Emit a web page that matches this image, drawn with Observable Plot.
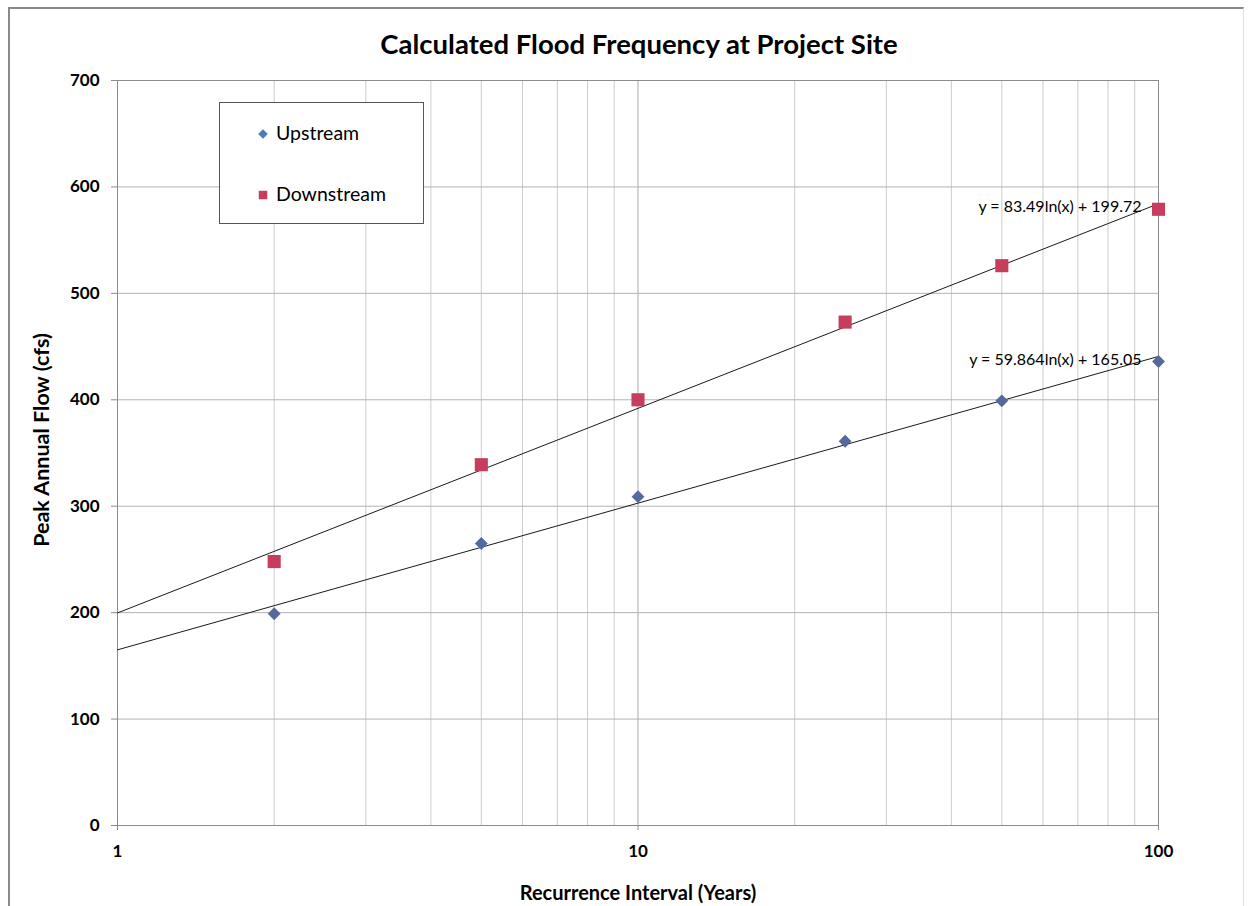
<!DOCTYPE html>
<html>
<head>
<meta charset="utf-8">
<script src="https://cdn.jsdelivr.net/npm/d3@7"></script>
<script src="https://cdn.jsdelivr.net/npm/@observablehq/plot@0.6"></script>
<style>
  html, body { margin: 0; padding: 0; background: #fff; }
  #wrap { position: relative; width: 1257px; height: 906px; overflow: hidden; font-family: Lato, "Open Sans", sans-serif; }
  #border { position: absolute; left: 8px; top: 7px; width: 1233px; height: 920px; border-left: 2px solid #8a8a8a; border-top: 2px solid #8a8a8a; border-right: 1px solid #e2e2e2; }
  #title { position: absolute; left: 0; top: 27px; width: 1278px; text-align: center; font-size: 27.5px; font-weight: bold; color: #000; }
  #legend { position: absolute; left: 219px; top: 102px; width: 205px; height: 122px; border: 1px solid #555; background: #fff; box-sizing: border-box; }
  .lg { position: absolute; left: 0; font-size: 19.5px; color: #000; white-space: nowrap; line-height: 24px; }
  .lg svg { position: absolute; }
  #chart { position: absolute; left: 0; top: 0; }
</style>
</head>
<body>
<div id="wrap">
  <div id="border"></div>
  <div id="chart"></div>
  <div id="title"></div>
  <div id="legend"></div>
</div>
<script>
// ---- data ----
const years = [2, 5, 10, 25, 50, 100];
const upstream = [199, 265, 309, 361, 399, 436];
const downstream = [248, 339, 400, 473, 526, 579];
const seriesNames = ["Upstream", "Downstream"];
const seriesColors = ["#56699e", "#c63d5e"];
const seriesSymbols = ["diamond2", "square"];
const trendSlope = [59.864, 83.49];
const trendIntercept = [165.05, 199.72];
const trendLabels = ["y = 59.864ln(x) + 165.05", "y = 83.49ln(x) + 199.72"];
const xGrid = [1, 2, 3, 4, 5, 6, 7, 8, 9, 10, 20, 30, 40, 50, 60, 70, 80, 90, 100];
const xTicks = [1, 10, 100];
const yTicks = [0, 100, 200, 300, 400, 500, 600, 700];
const titleText = "Calculated Flood Frequency at Project Site";
const xTitle = "Recurrence Interval (Years)";
const yTitle = "Peak Annual Flow (cfs)";

// ---- build tables ----
const seriesValues = [upstream, downstream];
const points = seriesNames.flatMap((s, i) => years.map((yr, j) => ({series: s, year: yr, flow: seriesValues[i][j]})));
const trendEnds = [xTicks[0], xTicks[xTicks.length - 1]];
const trend = seriesNames.flatMap((s, i) => trendEnds.map(x => ({series: s, year: x, flow: trendSlope[i] * Math.log(x) + trendIntercept[i]})));
const trendText = seriesNames.map((s, i) => ({series: s, label: trendLabels[i], year: trendEnds[1], flow: trendSlope[i] * Math.log(trendEnds[1]) + trendIntercept[i]}));

document.getElementById("title").textContent = titleText;

const chart = Plot.plot({
  width: 1257,
  height: 906,
  marginTop: 80,
  marginLeft: 117,
  marginRight: 99,
  marginBottom: 81,
  style: {fontFamily: "Lato, 'Open Sans', sans-serif", background: "transparent", color: "#000"},
  x: {type: "log", domain: [xTicks[0], xTicks[xTicks.length - 1]]},
  y: {domain: [yTicks[0], yTicks[yTicks.length - 1]]},
  marks: [
    Plot.ruleX(xGrid.filter(d => !xTicks.includes(d)), {stroke: "#cdcdcd", strokeWidth: 1}),
    Plot.ruleX(xTicks, {stroke: "#a9a9a9", strokeWidth: 1}),
    Plot.ruleY(yTicks, {stroke: "#b3b3b3", strokeWidth: 1}),
    Plot.frame({stroke: "#8c8c8c"}),
    Plot.axisY({ticks: yTicks, tickSize: 6, tickPadding: 12, fontSize: 17, fontWeight: "bold", label: null, stroke: "#8c8c8c", fill: "#000"}),
    Plot.axisX({ticks: xTicks, tickSize: 5, tickPadding: 14, fontSize: 17, fontWeight: "bold", label: null, tickFormat: d => String(d), stroke: "#8c8c8c", fill: "#000"}),
    Plot.line(trend, {x: "year", y: "flow", z: "series", stroke: "#1a1a1a", strokeWidth: 1}),
    Plot.dot(points.filter(d => d.series === seriesNames[0]), {x: "year", y: "flow", symbol: seriesSymbols[0], r: 5.8, fill: seriesColors[0], stroke: "none"}),
    Plot.dot(points.filter(d => d.series === seriesNames[1]), {x: "year", y: "flow", symbol: seriesSymbols[1], r: 7.4, fill: seriesColors[1], stroke: "none"}),
    Plot.text(trendText, {x: "year", y: "flow", text: "label", textAnchor: "end", dx: -17, dy: 3, fontSize: 16, fill: "#000"}),
    Plot.text([xTitle], {frameAnchor: "bottom", textAnchor: "middle", lineAnchor: "middle", dy: 68, fontSize: 20, fontWeight: "bold", fill: "#000"}),
    Plot.text([yTitle], {frameAnchor: "left", textAnchor: "middle", lineAnchor: "middle", rotate: -90, dx: -75, dy: -13, fontSize: 21.5, fontWeight: "bold", fill: "#000"})
  ]
});
document.getElementById("chart").appendChild(chart);

// ---- legend ----
const legend = document.getElementById("legend");
const legendRows = [{top: 18}, {top: 79}];
seriesNames.forEach((s, i) => {
  const row = document.createElement("div");
  row.className = "lg";
  row.style.top = legendRows[i].top + "px";
  row.style.left = "56px";
  row.textContent = s;
  legend.appendChild(row);
  const sym = d3.create("svg").attr("width", 16).attr("height", 16)
    .style("position", "absolute").style("left", "35px").style("top", (legendRows[i].top + 5) + "px");
  const size = i === 0 ? 60 : 72;
  sym.append("path")
    .attr("transform", "translate(8,8)")
    .attr("d", d3.symbol(i === 0 ? d3.symbolDiamond2 : d3.symbolSquare, size)())
    .attr("fill", i === 0 ? "#4a7ebb" : seriesColors[1]);
  legend.appendChild(sym.node());
});
</script>
</body>
</html>
